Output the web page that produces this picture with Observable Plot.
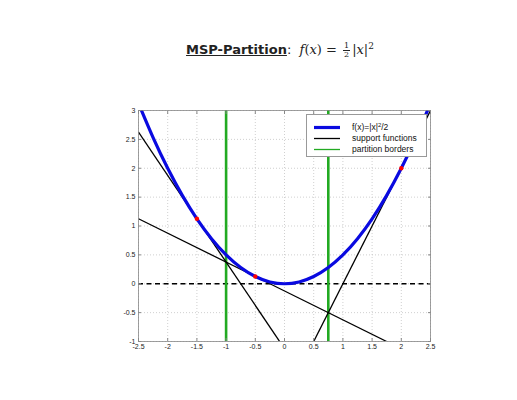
<!DOCTYPE html>
<html><head><meta charset="utf-8">
<script src="https://cdn.jsdelivr.net/npm/d3@7"></script>
<script src="https://cdn.jsdelivr.net/npm/@observablehq/plot@0.6"></script>
<style>
html,body{margin:0;padding:0;background:#fff;}
#wrap{position:relative;width:517px;height:400px;overflow:hidden;}
#title{position:absolute;left:0;top:42px;width:560px;text-align:center;font-family:"DejaVu Sans",sans-serif;font-size:13px;color:#222;white-space:nowrap;}
#title .b{font-weight:bold;text-decoration:underline;}
#title .m{font-family:"DejaVu Serif",serif;font-style:italic;}
#title .r{font-family:"DejaVu Serif",serif;}
.frac{display:inline-block;vertical-align:middle;text-align:center;font-family:"DejaVu Serif",serif;font-size:8px;line-height:8px;margin:0 2px;}
.frac span{display:block;}
.frac .n{border-bottom:0.8px solid #222;padding:0 1px;}
#legend{position:absolute;left:306px;top:114px;width:121px;height:43px;background:#fff;border:1px solid #999;box-sizing:border-box;font-family:"Liberation Sans",Arial,sans-serif;font-size:8.5px;color:#111;}
#legend .row{position:absolute;left:6px;height:11px;}
#legend svg{position:absolute;left:0;top:0;}
#legend .t{position:absolute;left:39px;top:0;white-space:nowrap;line-height:11px;}
#legend .sp{position:relative;top:-3px;font-size:6px;line-height:0;}
</style></head>
<body><div id="wrap"><div id="chart"></div>
<div id="title"><span class="b">MSP-Partition</span>:&nbsp; <span class="m">f</span><span class="r">(</span><span class="m">x</span><span class="r">) = </span><span class="frac"><span class="n">1</span><span>2</span></span><span class="r">|</span><span class="m">x</span><span class="r">|</span><span class="r" style="font-size:9px;position:relative;top:-5px;line-height:0">2</span></div>
<div id="legend"></div>
</div>
<script>
// f(x) = |x|^2 / 2 sampled values
const curveX = [-2.5,-2.25,-2,-1.75,-1.5,-1.25,-1,-0.75,-0.5,-0.25,0,0.25,0.5,0.75,1,1.25,1.5,1.75,2,2.25,2.5];
const curveY = [3.125,2.531,2,1.531,1.125,0.781,0.5,0.281,0.125,0.031,0,0.031,0.125,0.281,0.5,0.781,1.125,1.531,2,2.531,3.125];
// support points
const supportX = [-1.5,-0.5,2];
const supportY = [1.125,0.125,2];
// support function segments
const lineX1 = [-2.5,-2.5,0.5];
const lineY1 = [2.625,1.125,-1];
const lineX2 = [-0.0833,1.75,2.5];
const lineY2 = [-1,-1,3];
// partition borders
const borders = [-1,0.75];
const xTicks = [-2.5,-2,-1.5,-1,-0.5,0,0.5,1,1.5,2,2.5];
const yTicks = [-1,-0.5,0,0.5,1,1.5,2,2.5,3];
const legendLabels = ["f(x)=|x|<span class='sp'>2</span>/2","support functions","partition borders"];
const legendColors = ["#0a0ae0","#000","#22aa22"];
const legendWidths = [3.2,1.3,1.3];

const curve = curveX.map((x,i)=>({x,y:curveY[i]}));
const pts = supportX.map((x,i)=>({x,y:supportY[i]}));
const segs = lineX1.map((x1,i)=>({x1,y1:lineY1[i],x2:lineX2[i],y2:lineY2[i]}));

const fmt = d => String(d);
const plot = Plot.plot({
  width:517, height:400,
  marginLeft:138, marginRight:87, marginTop:110, marginBottom:59,
  style:{fontFamily:"'Liberation Sans',Arial,sans-serif",fontSize:"7px",color:"#222",background:"#fff"},
  x:{domain:[-2.5,2.5]},
  y:{domain:[-1,3]},
  marks:[
    Plot.gridX(xTicks,{stroke:"#bbb",strokeOpacity:1,strokeDasharray:"1,2",strokeWidth:0.7}),
    Plot.gridY(yTicks,{stroke:"#bbb",strokeOpacity:1,strokeDasharray:"1,2",strokeWidth:0.7}),
    Plot.ruleY([0],{stroke:"#000",strokeWidth:1.6,strokeDasharray:"5,3.5"}),
    Plot.ruleX(borders,{stroke:"#22aa22",strokeWidth:2.6}),
    Plot.link(segs,{x1:"x1",y1:"y1",x2:"x2",y2:"y2",stroke:"#000",strokeWidth:1.3,clip:true}),
    Plot.line(curve,{x:"x",y:"y",curve:"natural",stroke:"#0a0ae0",strokeWidth:3.2,clip:true}),
    Plot.dot(pts,{x:"x",y:"y",r:2.2,fill:"#ff0000",stroke:"none"}),
    Plot.frame({stroke:"#888",strokeWidth:0.8}),
    Plot.axisX(xTicks,{anchor:"bottom",tickSize:-3,tickPadding:6,tickFormat:fmt,stroke:"#888"}),
    Plot.axisX(xTicks,{anchor:"top",tickSize:-3,tickFormat:()=>"",stroke:"#888"}),
    Plot.axisY(yTicks,{anchor:"left",tickSize:-3,tickPadding:6,tickFormat:fmt,stroke:"#888"}),
    Plot.axisY(yTicks,{anchor:"right",tickSize:-3,tickFormat:()=>"",stroke:"#888"})
  ]
});
document.getElementById("chart").appendChild(plot);

const lg = document.getElementById("legend");
legendLabels.forEach((label,i)=>{
  const row = document.createElement("div");
  row.className="row"; row.style.top=(7+i*11)+"px"; row.style.width="112px";
  row.innerHTML = `<svg width="30" height="11"><line x1="1" x2="27" y1="5.5" y2="5.5" stroke="${legendColors[i]}" stroke-width="${legendWidths[i]}"/></svg><span class="t">${label}</span>`;
  lg.appendChild(row);
});
</script>
</body></html>
